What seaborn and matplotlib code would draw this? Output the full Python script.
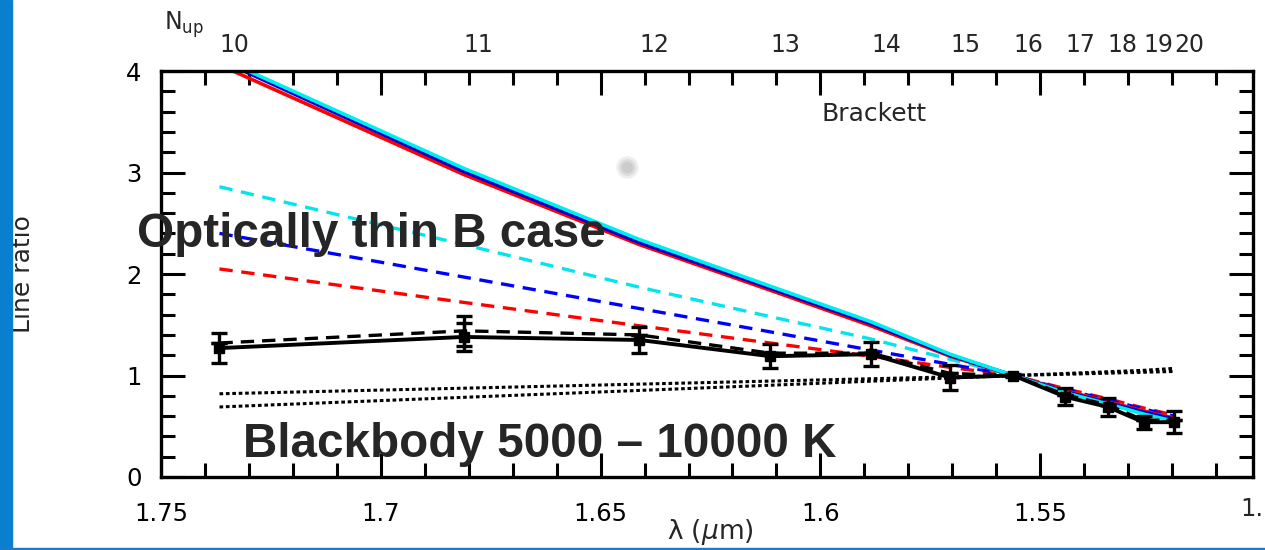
import numpy as np
import pandas as pd
import matplotlib
matplotlib.use("Agg")
import matplotlib.pyplot as plt
import seaborn as sns
from matplotlib.ticker import MultipleLocator, FixedLocator
from matplotlib.patches import Rectangle

sns.set_theme(style="white")
plt.rcParams['font.family'] = ['DejaVu Sans']
plt.rcParams['mathtext.fontset'] = 'dejavusans'

# Brackett series: upper level and wavelength (micron)
n_up = [10, 11, 12, 13, 14, 15, 16, 17, 18, 19, 20]
wavelength = [1.7367, 1.6811, 1.6412, 1.6114, 1.5885, 1.5705, 1.5561,
              1.5443, 1.5346, 1.5265, 1.5196]

# Observed line ratios (normalised to Br16), two epochs
obs_ratio = [1.27, 1.38, 1.35, 1.19, 1.21, 0.98, 1.00, 0.79, 0.69, 0.54, 0.54]
obs_err = [0.15, 0.14, 0.13, 0.12, 0.12, 0.12, 0.01, 0.085, 0.085, 0.065, 0.11]
obs2_ratio = [1.32, 1.44, 1.40, 1.22, 1.22, 1.02, 1.00, 0.81, 0.71, 0.56, 0.56]
obs2_err = [0.0, 0.15, 0.0, 0.0, 0.0, 0.0, 0.0, 0.0, 0.0, 0.0, 0.0]

# Case B models (solid) for three temperatures / densities
caseb_red = [4.06, 2.98, 2.29, 1.84, 1.49, 1.19, 1.00, 0.85, 0.74, 0.65, 0.58]
caseb_blue = [4.11, 3.01, 2.31, 1.86, 1.51, 1.20, 1.00, 0.84, 0.73, 0.64, 0.57]
caseb_cyan = [4.13, 3.04, 2.34, 1.88, 1.53, 1.21, 1.00, 0.83, 0.72, 0.62, 0.55]

# Alternative models (dashed)
alt_red = [2.05, 1.72, 1.49, 1.32, 1.19, 1.08, 1.00, 0.87, 0.77, 0.68, 0.61]
alt_blue = [2.40, 1.97, 1.66, 1.43, 1.25, 1.11, 1.00, 0.86, 0.76, 0.67, 0.60]
alt_cyan = [2.86, 2.29, 1.87, 1.58, 1.36, 1.16, 1.00, 0.85, 0.74, 0.65, 0.58]

# Blackbody ratios (dotted)
bb_hot = [0.82, 0.875, 0.915, 0.945, 0.968, 0.986, 1.00, 1.012, 1.023, 1.032, 1.04]
bb_cool = [0.69, 0.785, 0.853, 0.904, 0.944, 0.975, 1.00, 1.02, 1.037, 1.051, 1.07]

# Faint smudge in the upper panel area
smudge_x = [1.6439]
smudge_y = [3.05]

x_major = [1.75, 1.7, 1.65, 1.6, 1.55]
x_major_labels = ["1.75", "1.7", "1.65", "1.6", "1.55"]
y_major = [0, 1, 2, 3, 4]

df = pd.DataFrame({
    "wl": wavelength,
    "obs": obs_ratio, "obs2": obs2_ratio,
    "cb_red": caseb_red, "cb_blue": caseb_blue, "cb_cyan": caseb_cyan,
    "alt_red": alt_red, "alt_blue": alt_blue, "alt_cyan": alt_cyan,
    "bb_hot": bb_hot, "bb_cool": bb_cool,
})

W, H = 1265, 550
fig = plt.figure(figsize=(W / 100, H / 100), dpi=100)
fig.patch.set_facecolor("white")
ax = fig.add_axes([161 / W, 73 / H, (1253 - 161) / W, (477 - 71) / H])
ax.set_facecolor("white")

dash = (0, (4, 2.6))
dot = (0, (1.2, 0.9))

# dotted blackbody curves
sns.lineplot(data=df, x="wl", y="bb_hot", ax=ax, color="black", lw=2.2,
             linestyle=dot, sort=False)
sns.lineplot(data=df, x="wl", y="bb_cool", ax=ax, color="black", lw=2.2,
             linestyle=dot, sort=False)

# dashed alternative models
for col, c in [("alt_red", "#ff0000"), ("alt_blue", "#0000ff"), ("alt_cyan", "#00e5ee")]:
    sns.lineplot(data=df, x="wl", y=col, ax=ax, color=c, lw=2.4,
                 linestyle=dash, sort=False)

# solid case B models
for col, c in [("cb_red", "#ff0000"), ("cb_blue", "#0000cc"), ("cb_cyan", "#00eeee")]:
    sns.lineplot(data=df, x="wl", y=col, ax=ax, color=c, lw=2.6, sort=False)

# observations
sns.lineplot(data=df, x="wl", y="obs2", ax=ax, color="black", lw=2.4,
             linestyle=(0, (4, 2.4)), sort=False)
sns.lineplot(data=df, x="wl", y="obs", ax=ax, color="black", lw=2.8, sort=False)
ax.errorbar(wavelength, obs_ratio, yerr=obs_err, fmt="s", color="black",
            ms=7, capsize=6, capthick=2.4, elinewidth=2.4, zorder=5)
ax.errorbar(wavelength, obs2_ratio, yerr=obs2_err, fmt="none", ecolor="black",
            capsize=6, capthick=2.4, elinewidth=2.4, zorder=5)

for a, s in [(0.25, 260), (0.35, 150), (0.5, 70)]:
    ax.scatter(smudge_x, smudge_y, s=s, color="#bdbdbd", alpha=a, lw=0, zorder=1)

ax.set_xlim(1.75, 1.5016)
ax.set_ylim(0, 4)

ax.xaxis.set_major_locator(FixedLocator(x_major))
ax.set_xticklabels(x_major_labels)
ax.xaxis.set_minor_locator(MultipleLocator(0.01))
ax.yaxis.set_major_locator(FixedLocator(y_major))
ax.yaxis.set_minor_locator(MultipleLocator(0.2))
ax.tick_params(which="both", direction="in", top=True, right=True,
               bottom=True, left=True, color="black", width=2.2)
ax.tick_params(which="major", length=17, labelsize=17.5, pad=14, labelcolor="black")
ax.tick_params(which="minor", length=10)
ax.tick_params(axis="x", which="major", pad=18)
for sp in ax.spines.values():
    sp.set_color("black")
    sp.set_linewidth(2.4)

ax.text(1.5, -0.2, "1.5", transform=ax.transData, ha="center", va="top",
        fontsize=17.5, clip_on=False)

ax.set_xlabel("")
ax.set_ylabel("")
fig.text(710 / W, 1 - 532 / H, r"λ ($\mu$m)", ha="center", va="center",
         fontsize=19)
fig.text(23 / W, 1 - 274 / H, "Line ratio", rotation=90, ha="center",
         va="center", fontsize=18)

# upper-level labels along the top
top_tr = ax.get_xaxis_transform()
for wl, n in zip(wavelength, n_up):
    ax.text(wl, 1.064, str(n), transform=top_tr, ha="left", va="center",
            fontsize=17, clip_on=False)
fig.text(164 / W, 1 - 25 / H, r"N$_{\rm up}$", ha="left", va="center",
         fontsize=17)
ax.text(1.5998, 3.58, "Brackett", ha="left", va="center", fontsize=18)

bold = dict(family=["Liberation Sans", "DejaVu Sans"], fontweight="bold",
            color="#262626", fontsize=34.3)
fig.text(137 / W, 1 - 247 / H, "Optically thin B case", ha="left",
         va="baseline", **bold)
fig.text(243 / W, 1 - 457 / H, "Blackbody 5000 \u2013 10000 K", ha="left",
         va="baseline", **bold)

# blue frame strips
fig.patches.append(Rectangle((0, 0), 12 / W, 1, transform=fig.transFigure,
                             color="#0a7fd0", zorder=10))
fig.patches.append(Rectangle((0, 0), 1, 2.5 / H, transform=fig.transFigure,
                             color="#1f78c8", zorder=10))

fig.savefig("out.png", dpi=100)
